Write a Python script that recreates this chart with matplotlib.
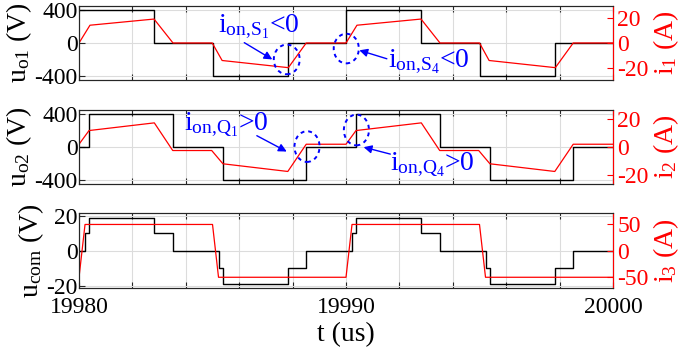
import numpy as np
import matplotlib
matplotlib.use('Agg')
import matplotlib.pyplot as plt
from matplotlib.patches import Ellipse

plt.rcParams['font.family'] = 'Liberation Serif'
plt.rcParams['mathtext.fontset'] = 'custom'
plt.rcParams['mathtext.rm'] = 'Liberation Serif'
plt.rcParams['mathtext.it'] = 'Liberation Serif:italic'
plt.rcParams['axes.unicode_minus'] = False

# u_o1 / i_1
t_uo1 = [19980, 19982.82, 19985.0, 19987.82, 19990, 19992.82, 19995.0, 19997.82, 20000]
uo1 = [400, 0, -400, 0, 400, 0, -400, 0, 0]
t_i1 = [19980, 19980.41, 19982.81, 19983.52, 19984.99, 19985.36, 19987.84, 19988.51, 19990.0,
        19990.41, 19992.81, 19993.52, 19995.0, 19995.36, 19997.84, 19998.51, 20000]
i1 = [0, 14.4, 19.4, 0, 0, -14.2, -20, 0, 0, 14.4, 19.4, 0, 0, -14.2, -20, 0, 0]

# u_o2 / i_2
t_uo2 = [19980, 19980.375, 19983.51, 19985.39, 19988.51, 19990.375, 19993.51, 19995.39, 19998.51, 20000]
uo2 = [0, 400, 0, -400, 0, 400, 0, -400, 0, 0]
t_i2 = [19980, 19980.375, 19982.82, 19983.51, 19984.97, 19985.39, 19987.82, 19988.51, 19990.0,
        19990.375, 19992.82, 19993.51, 19994.97, 19995.39, 19997.82, 19998.51, 20000]
i2 = [2.1, 11.9, 17.4, -2.4, -2.4, -11.9, -17.4, 2.1, 2.1, 11.9, 17.4, -2.4, -2.4, -11.9, -17.4, 2.1, 2.1]

# u_com / i_3
t_ucom = [19980, 19980.225, 19980.375, 19982.82, 19983.51, 19985.225, 19985.375, 19987.82, 19988.51,
          19990.225, 19990.375, 19992.82, 19993.51, 19995.225, 19995.375, 19997.82, 19998.51, 20000]
ucom = [0, 10, 19, 10, 0, -10, -19, -10, 0, 10, 19, 10, 0, -10, -19, -10, 0, 0]
t_i3 = [19980, 19980.225, 19985.0, 19985.225, 19990.0, 19990.225, 19995.0, 19995.225, 20000]
i3 = [-50, 50, 50, -50, -50, 50, 50, -50, -50]

xticks = np.arange(19980, 20001, 2)
xticklabels = ['19980', '', '', '', '', '19990', '', '', '', '', '20000']

panels = [
    dict(t_u=t_uo1, u=uo1, t_i=t_i1, i=i1, ulim=450, ilim=30, uticks=[-400, 0, 400],
         iticks=[-20, 0, 20], ulab=r'$\mathregular{u_{o1}}$ (V)', ilab=r'$\mathregular{i_{1}}$ (A)'),
    dict(t_u=t_uo2, u=uo2, t_i=t_i2, i=i2, ulim=450, ilim=26.6, uticks=[-400, 0, 400],
         iticks=[-20, 0, 20], ulab=r'$\mathregular{u_{o2}}$ (V)', ilab=r'$\mathregular{i_{2}}$ (A)'),
    dict(t_u=t_ucom, u=ucom, t_i=t_i3, i=i3, ulim=21.5, ilim=71, uticks=[-20, 0, 20],
         iticks=[-50, 0, 50], ulab=r'$\mathregular{u_{com}}$ (V)', ilab=r'$\mathregular{i_{3}}$ (A)'),
]

fig = plt.figure(figsize=(6.83, 3.6), dpi=100)
boxes = [(0.1157, 0.7778, 0.7818, 0.2056),
         (0.1157, 0.4880, 0.7818, 0.2064),
         (0.1157, 0.1990, 0.7818, 0.2083)]

axes = []
for k, (p, box) in enumerate(zip(panels, boxes)):
    ax = fig.add_axes(box)
    ax2 = ax.twinx()
    ax.plot(p['t_u'], p['u'], color='black', lw=1.0, drawstyle='steps-post')
    ax2.plot(p['t_i'], p['i'], color='red', lw=0.9)
    ax.set_xlim(19980, 20000)
    ax.set_ylim(-p['ulim'], p['ulim'])
    ax2.set_ylim(-p['ilim'], p['ilim'])
    ax.set_xticks(xticks)
    ax.set_yticks(p['uticks'])
    ax2.set_yticks(p['iticks'])
    if k == 2:
        ax.set_xticklabels(xticklabels)
        ax.set_xlabel('t (us)', fontsize=20, labelpad=3)
    else:
        ax.set_xticklabels([])
    ax.set_yticklabels([str(v) for v in p['uticks']])
    ax2.set_yticklabels([str(v) for v in p['iticks']])
    ax.grid(True, color='#dcdcdc', lw=0.8)
    ax.set_axisbelow(True)
    ax.tick_params(axis='x', direction='in', top=True, length=4, width=0.8,
                   color='#262626', labelsize=17, pad=6)
    ax.tick_params(axis='y', direction='in', length=4, width=0.8, color='#262626',
                   labelsize=17, pad=1)
    ax2.tick_params(axis='y', direction='in', length=4, width=0.8, colors='red',
                    labelsize=17, pad=3)
    for s in ['top', 'bottom', 'left']:
        ax.spines[s].set_color('#262626')
        ax2.spines[s].set_color('#262626')
    ax2.spines['right'].set_color('red')
    ax.set_ylabel(p['ulab'], fontsize=20, labelpad=0)
    ax2.set_ylabel(p['ilab'], fontsize=20, color='red', rotation=90, labelpad=2)
    axes.append((ax, ax2))

blue = '#0000ff'


def mark(ax, ax2, center, w, h):
    e = Ellipse(center, w, h, transform=ax.transData, fill=False, edgecolor=blue,
                lw=1.4, linestyle=(0, (2, 2)), zorder=5)
    ax2.add_patch(e)


def note(ax, ax2, text, pos, tail, head):
    ax2.annotate('', xy=head, xytext=tail, xycoords=ax.transData, textcoords=ax.transData,
                 arrowprops=dict(arrowstyle='-|>', color=blue, lw=1.0, mutation_scale=12,
                                 shrinkA=0, shrinkB=0), zorder=6)
    ax2.text(pos[0], pos[1], text, transform=ax.transData, color=blue, fontsize=20,
             ha='left', va='baseline', zorder=6)


ax, ax2 = axes[0]
mark(ax, ax2, (19987.78, -200), 0.97, 360)
note(ax, ax2, r'$\mathregular{i_{on{,}S_1}}$<0', (19985.2, 136), (19986.19, 4), (19987.24, -200))
mark(ax, ax2, (19990.01, -68), 0.94, 360)
note(ax, ax2, r'$\mathregular{i_{on{,}S_4}}$<0', (19991.59, -296), (19991.53, -192), (19990.5, -89))

ax, ax2 = axes[1]
mark(ax, ax2, (19988.54, 7), 0.94, 372)
note(ax, ax2, r'$\mathregular{i_{on{,}Q_1}}$>0', (19983.94, 208), (19986.66, 139), (19987.78, -53))
mark(ax, ax2, (19990.39, 208), 0.94, 372)
note(ax, ax2, r'$\mathregular{i_{on{,}Q_4}}$>0', (19991.66, -272), (19991.66, -84), (19990.66, 0))

fig.savefig('out.png', dpi=100)
